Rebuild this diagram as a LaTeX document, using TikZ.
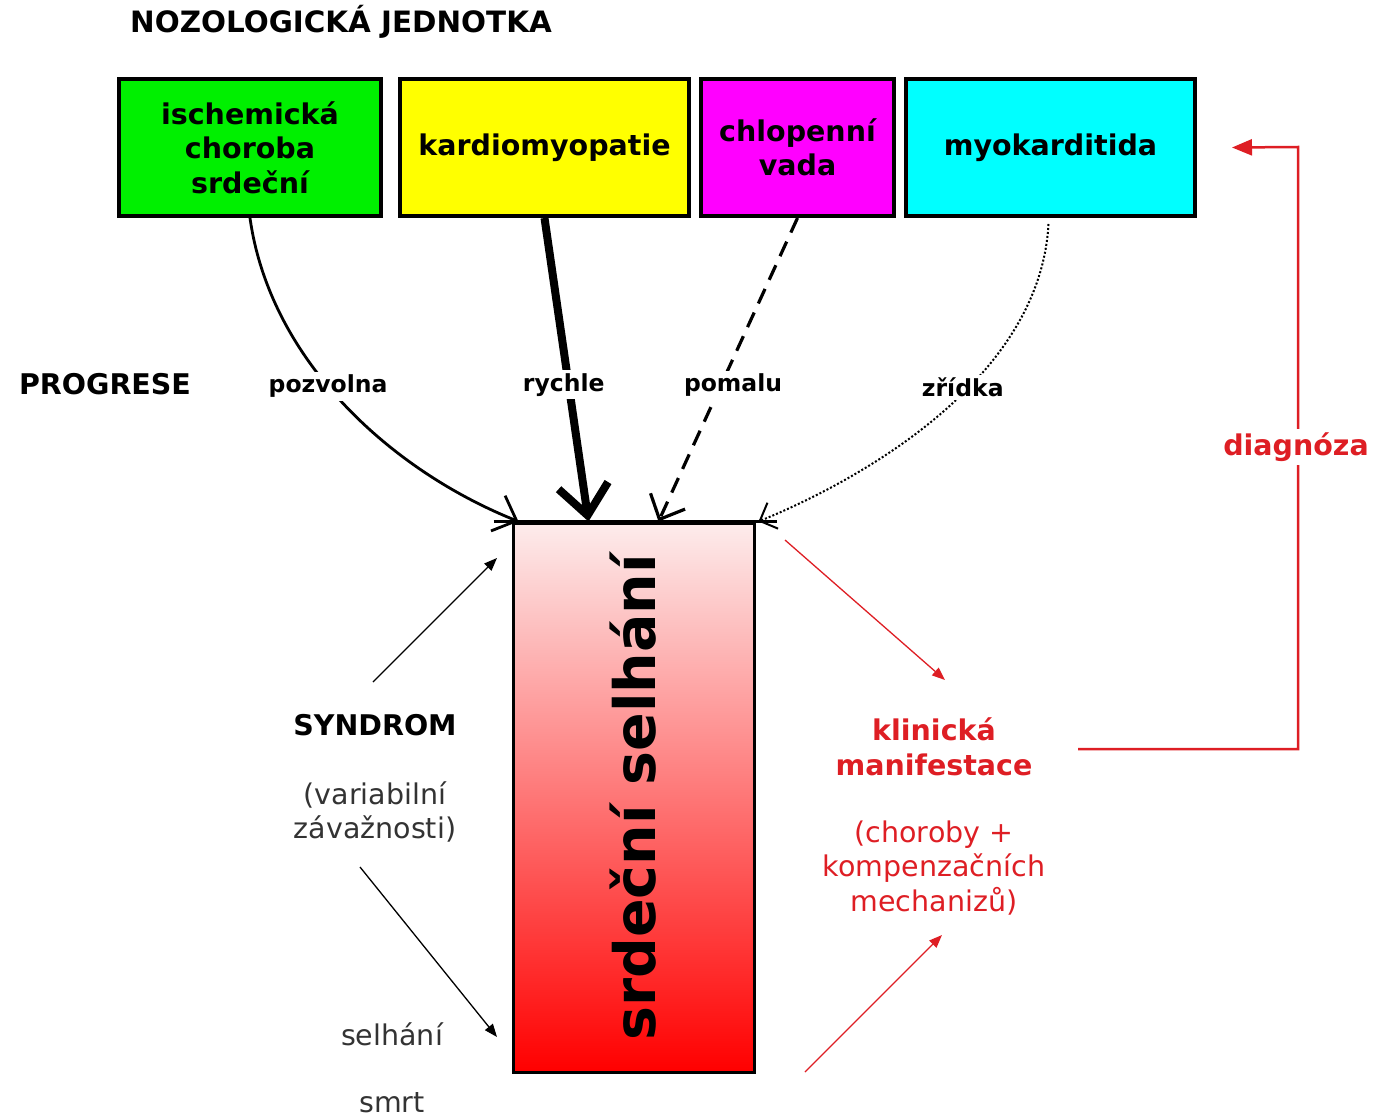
\documentclass[tikz,border=0pt]{standalone}
\usepackage{fontspec}
\setmainfont{DejaVu Sans}
\usetikzlibrary{arrows.meta,calc}
\definecolor{cgreen}{RGB}{0,240,0}
\definecolor{cyellow}{RGB}{255,255,0}
\definecolor{cmag}{RGB}{255,0,255}
\definecolor{ccyan}{RGB}{0,255,255}
\definecolor{cred}{RGB}{222,30,36}
\definecolor{pinktop}{RGB}{253,236,236}
\newcommand{\fbig}{\fontsize{28.5}{34.5}\selectfont}
\newcommand{\ftitle}{\fontsize{29.4}{34.5}\selectfont}
\newcommand{\fsmall}{\fontsize{23.5}{28}\selectfont}
\newcommand{\fhuge}{\fontsize{57}{64}\selectfont}
\tikzset{
  cbox/.style={draw=black, line width=4pt, minimum height=137pt, align=center, font=\fbig\bfseries, inner sep=0pt},
  heading/.style={font=\fbig\bfseries, inner sep=0pt},
  plain/.style={font=\fbig, align=center, inner sep=0pt, text=black!80},
  lbl/.style={font=\fsmall\bfseries, fill=white, inner sep=3pt},
  barb/.style={-{Straight Barb[length=20pt,width=38pt]}},
  thinarrow/.style={line width=1.3pt, -{Triangle[length=13pt,width=10pt]}},
  redarrow/.style={cred, line width=1.3pt, -{Triangle[length=13pt,width=10pt]}},
}
\begin{document}
\begin{tikzpicture}[x=1pt,y=-1pt]
\useasboundingbox (0,0) rectangle (1376,1118);
% headings
\node[font=\ftitle\bfseries, inner sep=0pt, anchor=west] (title) at (130,22) {NOZOLOGICKÁ JEDNOTKA};
\node[heading] (prog) at (105,384) {PROGRESE};
% cause boxes
\node[cbox, fill=cgreen, minimum width=262pt] (ich) at (250,147.5) {ischemická\\choroba\\srdeční};
\node[cbox, fill=cyellow, minimum width=289pt] (kard) at (544.5,147.5) {kardiomyopatie};
\node[cbox, fill=cmag, minimum width=193pt] (chl) at (797.5,147.5) {chlopenní\\vada};
\node[cbox, fill=ccyan, minimum width=289pt] (myo) at (1050.5,147.5) {myokarditida};
% heart failure box
\node[draw=black, line width=3pt, top color=pinktop, bottom color=red, minimum width=241pt, minimum height=549pt, inner sep=0pt] (hf) at (633.5,797.5) {};
\node[rotate=90, font=\fhuge\bfseries, inner sep=0pt] (hft) at (hf.center) {srdeční selhání};
\coordinate (tl) at ($(hf.north west)+(-18,0)$);
\coordinate (tr) at ($(hf.north east)+(21,0)$);
\draw[line width=3pt] (tl) -- (tr);
\coordinate (e1) at ($(hf.north west)+(7,0)$);
\coordinate (e2) at ($(hf.north west)+(77,0)$);
\coordinate (e3) at ($(hf.north west)+(147,0)$);
\coordinate (e4) at ($(hf.north west)+(247,0)$);
% progression connectors
\draw[line width=2.8pt, barb] (ich.south) .. controls (270,360) and (390,470) .. (e1)
  node[lbl, pos=0.445] (l1) {pozvolna};
\draw[line width=8pt, -{Straight Barb[length=30pt,width=50pt]}] (kard.south) -- (e2)
  node[lbl, pos=0.55, xshift=-5pt] (l2) {rychle};
\draw[line width=3.2pt, dash pattern=on 16pt off 10pt, barb] (chl.south) -- (e3)
  node[lbl, pos=0.55, xshift=12pt] (l3) {pomalu};
\draw[line width=2pt, dotted, -{Straight Barb[length=14pt,width=28pt]}] ($(myo.south)+(-2,6)$) .. controls (1040,380) and (860,480) .. (e4)
  node[lbl, pos=0.41, xshift=-6pt] (l4) {zřídka};
% syndrome
\node[heading] (syn) at (375,725) {SYNDROM};
\node[plain] (var) at (375,812) {(variabilní\\závažnosti)};
\node[plain] (sel) at (392,1034) {selhání};
\node[plain] (smrt) at (392,1103) {smrt};
\coordinate (a1s) at (373,682); \coordinate (a1e) at (497,558);
\coordinate (a2s) at (360,867); \coordinate (a2e) at (497,1037);
\draw[thinarrow] (a1s) -- (a1e);
\draw[thinarrow] (a2s) -- (a2e);
% clinical manifestation
\node[heading, text=cred, align=center] (klin) at (934,747) {klinická\\manifestace};
\node[plain, text=cred] (chor) at (934,868) {(choroby +\\kompenzačních\\mechanizů)};
\coordinate (r1s) at (785,540); \coordinate (r1e) at (945,680);
\coordinate (r2s) at (805,1072); \coordinate (r2e) at (942,935);
\draw[redarrow] (r1s) -- (r1e);
\draw[redarrow] (r2s) -- (r2e);
% diagnosis loop
\coordinate (d0) at (1078,749);
\coordinate (d1) at (1298,749);
\coordinate (d2) at (1298,147);
\coordinate (d3) at ($(myo.east)+(35,0)$);
\draw[cred, line width=2.5pt, -{Triangle[length=20pt,width=16pt]}] (d0) -- (d1) -- (d2) -- (d3);
\node[heading, text=cred, fill=white, inner sep=4pt] (diag) at (1296,447) {diagnóza};
\end{tikzpicture}
\end{document}
